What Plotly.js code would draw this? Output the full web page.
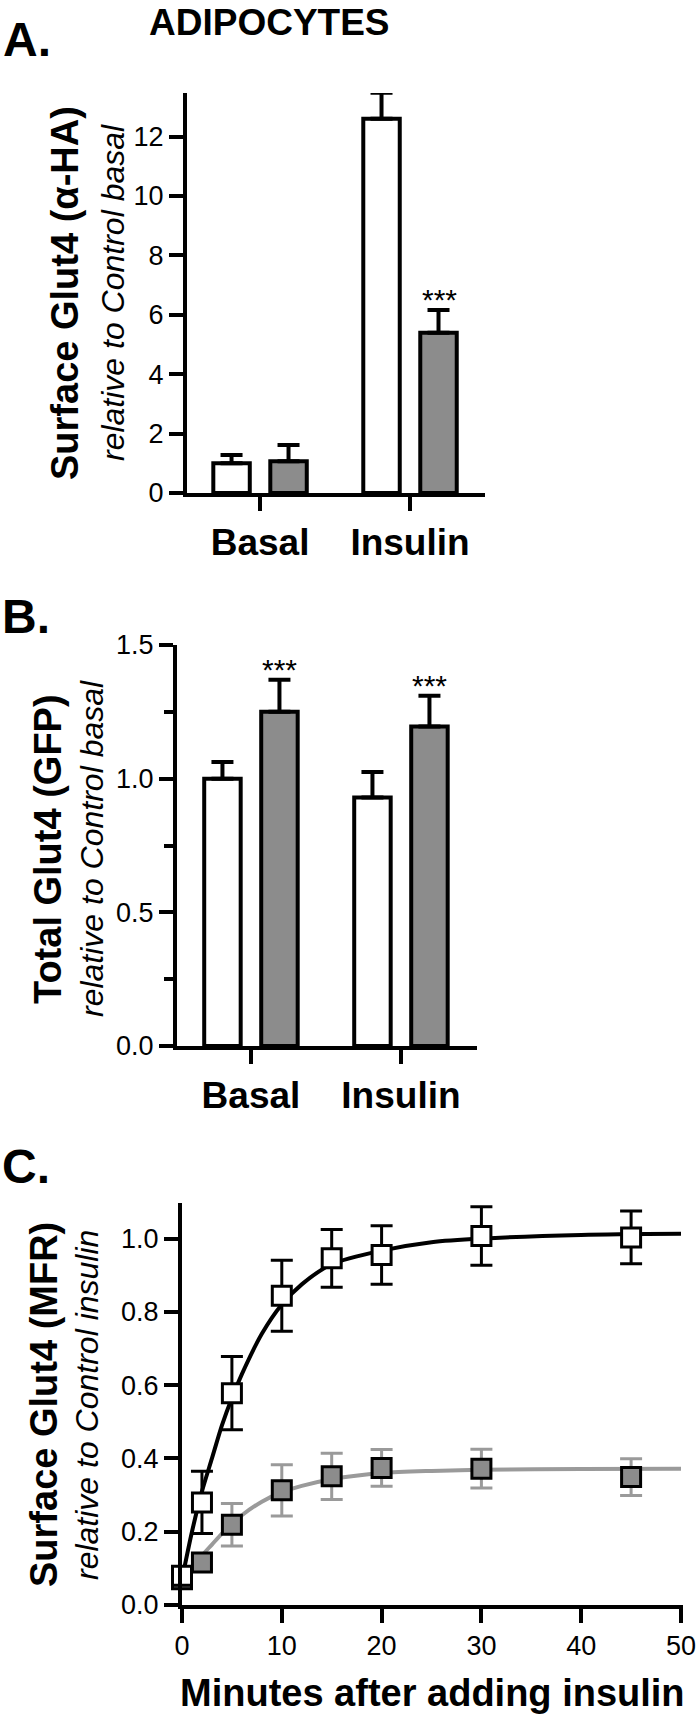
<!DOCTYPE html>
<html>
<head>
<meta charset="utf-8">
<script src="https://cdn.plot.ly/plotly-3.0.1.min.js"></script>
<style>
  html, body { margin: 0; padding: 0; background: #fff; }
  #plot { width: 700px; height: 1716px; }
</style>
</head>
<body>
<div id="plot"></div>
<script>
// ─────────────────────────────────────────────
// Values
// ─────────────────────────────────────────────
const groups = ['Basal', 'Insulin'];

// A. surface Glut4 (α-HA), relative to control basal
const surfCtrl = [1.0, 12.6];
const surfCtrlErr = [0.28, 0.88];
const surfKd = [1.07, 5.4];
const surfKdErr = [0.55, 0.76];

// B. total Glut4 (GFP), relative to control basal
const totCtrl = [1.0, 0.93];
const totCtrlErr = [0.062, 0.095];
const totKd = [1.25, 1.195];
const totKdErr = [0.12, 0.115];

// C. surface Glut4 (MFR) over time, relative to control insulin
const minutes = [0, 2, 5, 10, 15, 20, 30, 45];
const mfrCtrl = [0.08, 0.28, 0.578, 0.844, 0.946, 0.955, 1.007, 1.003];
const mfrCtrlErr = [0.02, 0.085, 0.1, 0.097, 0.079, 0.08, 0.08, 0.072];
const mfrKd = [0.07, 0.116, 0.219, 0.313, 0.351, 0.374, 0.372, 0.349];
const mfrKdErr = [0.02, 0.02, 0.058, 0.07, 0.063, 0.05, 0.053, 0.05];

// fitted curves
const fitMin = [0, 1, 2, 3, 4, 5, 6, 8, 10, 12, 15, 20, 25, 30, 40, 50];
const fitCtrl = [0.07, 0.20, 0.31, 0.40, 0.49, 0.565, 0.63, 0.74, 0.82, 0.875, 0.93, 0.967, 0.99, 1.0, 1.01, 1.013];
const fitKd = [0.07, 0.10, 0.135, 0.165, 0.195, 0.222, 0.245, 0.282, 0.308, 0.325, 0.343, 0.36, 0.366, 0.369, 0.371, 0.372];

// ─────────────────────────────────────────────
// Styling helpers
// ─────────────────────────────────────────────
const W = 700, H = 1716;
const FONT = 'Liberation Sans, Arial, Helvetica, sans-serif';
const BAR_GRAY = '#8c8c8c';
const LINE_GRAY = '#9a9a9a';

const px = v => v / W;          // pixel -> paper x
const py = v => 1 - v / H;      // pixel -> paper y

function barTrace(y, err, fill, xa, ya) {
    return {
        type: 'bar', x: groups, y: y, xaxis: xa, yaxis: ya,
        marker: { color: fill, line: { color: '#000', width: 4 } },
        error_y: {
            type: 'data', symmetric: false, array: err, arrayminus: err.map(() => 0),
            color: '#000', thickness: 4, width: 11
        },
        cliponaxis: false, hoverinfo: 'skip', showlegend: false
    };
}

function fitTrace(y, color) {
    return {
        type: 'scatter', mode: 'lines', x: fitMin, y: y, xaxis: 'x3', yaxis: 'y3',
        line: { color: color, width: 4, shape: 'spline', smoothing: 0.8 },
        cliponaxis: false, hoverinfo: 'skip', showlegend: false
    };
}

function pointTrace(y, err, fill, barColor) {
    return {
        type: 'scatter', mode: 'markers', x: minutes, y: y, xaxis: 'x3', yaxis: 'y3',
        marker: { symbol: 'square', size: 19, color: fill, line: { color: '#000', width: 3 } },
        error_y: { type: 'data', array: err, color: barColor, thickness: 3, width: 11 },
        cliponaxis: false, hoverinfo: 'skip', showlegend: false
    };
}

const axisBase = {
    showline: true, linecolor: '#000', linewidth: 4,
    ticks: 'outside', ticklen: 14, tickwidth: 4, tickcolor: '#000',
    showgrid: false, zeroline: false, fixedrange: true,
    tickfont: { family: FONT, size: 27, color: '#000' }
};
const catFont = { family: FONT, size: 37, color: '#000', weight: 'bold' };

const traces = [
    barTrace(surfCtrl, surfCtrlErr, '#ffffff', 'x', 'y'),
    barTrace(surfKd, surfKdErr, BAR_GRAY, 'x', 'y'),
    barTrace(totCtrl, totCtrlErr, '#ffffff', 'x2', 'y2'),
    barTrace(totKd, totKdErr, BAR_GRAY, 'x2', 'y2'),
    fitTrace(fitKd, LINE_GRAY),
    pointTrace(mfrKd, mfrKdErr, BAR_GRAY, LINE_GRAY),
    fitTrace(fitCtrl, '#000'),
    pointTrace(mfrCtrl, mfrCtrlErr, '#ffffff', '#000'),
];

// left-side two-line axis titles
function yTitle(bold, italic, xb, xi, yc) {
    return [
        { text: '<b>' + bold + '</b>', x: px(xb), y: py(yc), textangle: -90,
          font: { family: FONT, size: 38, color: '#000' } },
        { text: '<i>' + italic + '</i>', x: px(xi), y: py(yc), textangle: -90,
          font: { family: FONT, size: 32, color: '#000' } },
    ];
}

function stars(xa, ya, cat, top) {
    return { text: '***', xref: xa, yref: ya, x: cat, y: top, xshift: 29, yshift: -8,
             yanchor: 'bottom', font: { family: FONT, size: 30, color: '#000' } };
}

const letterFont = { family: FONT, size: 48, color: '#000', weight: 'bold' };

const annotations = [
    { text: '<b>ADIPOCYTES</b>', x: px(147), y: py(0), xanchor: 'left', yanchor: 'top',
      font: { family: FONT, size: 37, color: '#000' } },
    { text: '<b>A.</b>', x: px(1), y: py(40), xanchor: 'left', font: letterFont },
    { text: '<b>B.</b>', x: px(0), y: py(616), xanchor: 'left', font: letterFont },
    { text: '<b>C.</b>', x: px(0), y: py(1166), xanchor: 'left', font: letterFont },
    ...yTitle('Surface Glut4 (α-HA)', 'relative to Control basal', 65, 113, 293),
    ...yTitle('Total Glut4 (GFP)', 'relative to Control basal', 48, 92, 849),
    ...yTitle('Surface Glut4 (MFR)', 'relative to Control insulin', 44, 87, 1405),
    { text: '<b>Minutes after adding insulin</b>', x: px(432), y: py(1693),
      font: { family: FONT, size: 38, color: '#000' } },
    stars('x', 'y', 'Insulin', surfKd[1] + surfKdErr[1]),
    stars('x2', 'y2', 'Basal', totKd[0] + totKdErr[0]),
    stars('x2', 'y2', 'Insulin', totKd[1] + totKdErr[1]),
].map(a => Object.assign({ xref: 'paper', yref: 'paper', showarrow: false,
                            xanchor: 'center', yanchor: 'middle' }, a));

const layout = {
    width: W, height: H,
    margin: { l: 0, r: 0, t: 0, b: 0 },
    paper_bgcolor: '#fff', plot_bgcolor: '#fff',
    font: { family: FONT, color: '#000' },
    barmode: 'group', bargap: 0.24, bargroupgap: 0.36,
    showlegend: false,

    // A
    xaxis: { ...axisBase, domain: [px(187), px(485)], anchor: 'y', type: 'category',
             range: [-0.487, 1.5], tickfont: catFont },
    yaxis: { ...axisBase, domain: [py(493), py(93)], anchor: 'x', range: [0, 13.47],
             tick0: 0, dtick: 2 },

    // B
    xaxis2: { ...axisBase, domain: [px(177), px(477)], anchor: 'y2', type: 'category',
              range: [-0.493, 1.507], tickfont: catFont },
    yaxis2: { ...axisBase, domain: [py(1046), py(645)], anchor: 'x2', range: [0, 1.5],
              tick0: 0, dtick: 0.5, tickformat: '.1f',
              minor: { dtick: 0.25, ticks: 'outside', ticklen: 9, tickwidth: 4, tickcolor: '#000' } },

    // C
    xaxis3: { ...axisBase, domain: [px(182), px(683)], anchor: 'y3', range: [0, 50.2],
              tick0: 0, dtick: 10 },
    yaxis3: { ...axisBase, domain: [py(1605), py(1203)], anchor: 'x3', range: [0, 1.097],
              tick0: 0, dtick: 0.2, tickformat: '.1f' },

    annotations: annotations
};

Plotly.newPlot('plot', traces, layout, { displayModeBar: false, staticPlot: true });
</script>
</body>
</html>
